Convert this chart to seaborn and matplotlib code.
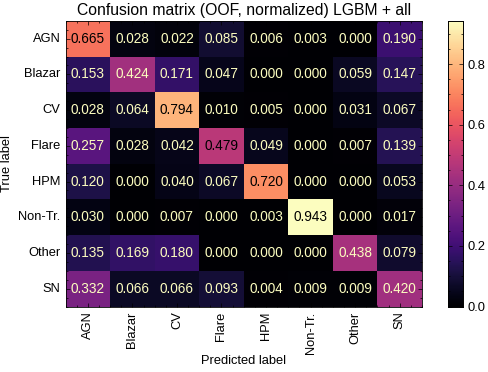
import numpy as np
import pandas as pd
import seaborn as sns
import matplotlib
matplotlib.use("Agg")
import matplotlib.pyplot as plt
from matplotlib.ticker import AutoMinorLocator

# классы и нормированная матрица ошибок
classes = ["AGN", "Blazar", "CV", "Flare", "HPM", "Non-Tr.", "Other", "SN"]
row_agn = [0.665, 0.028, 0.022, 0.085, 0.006, 0.003, 0.000, 0.190]
row_blazar = [0.153, 0.424, 0.171, 0.047, 0.000, 0.000, 0.059, 0.147]
row_cv = [0.028, 0.064, 0.794, 0.010, 0.005, 0.000, 0.031, 0.067]
row_flare = [0.257, 0.028, 0.042, 0.479, 0.049, 0.000, 0.007, 0.139]
row_hpm = [0.120, 0.000, 0.040, 0.067, 0.720, 0.000, 0.000, 0.053]
row_nontr = [0.030, 0.000, 0.007, 0.000, 0.003, 0.943, 0.000, 0.017]
row_other = [0.135, 0.169, 0.180, 0.000, 0.000, 0.000, 0.438, 0.079]
row_sn = [0.332, 0.066, 0.066, 0.093, 0.004, 0.009, 0.009, 0.420]

cm = pd.DataFrame([row_agn, row_blazar, row_cv, row_flare, row_hpm,
                   row_nontr, row_other, row_sn],
                  index=classes, columns=classes)

# стиль как в научных графиках: тики внутрь, со всех сторон
plt.rcParams["font.family"] = ["Liberation Sans", "DejaVu Sans"]
plt.rcParams["xtick.direction"] = "in"
plt.rcParams["ytick.direction"] = "in"
plt.rcParams["xtick.top"] = True
plt.rcParams["ytick.right"] = True
plt.rcParams["axes.linewidth"] = 0.6

fig = plt.figure(figsize=(4.89, 3.72), dpi=100)
ax = fig.add_axes([0.134, 0.176, 0.729, 0.768])
cax = fig.add_axes([0.917, 0.176, 0.030, 0.768])

sns.heatmap(cm, cmap="magma", vmin=0, vmax=cm.values.max(), ax=ax,
            cbar_ax=cax, annot=False, square=False)

# подписи в ячейках
for i in range(len(classes)):
    for j in range(len(classes)):
        v = cm.values[i, j]
        col = "black" if v > 0.45 else "#fcfdbf"
        ax.text(j + 0.5, i + 0.5, f"{v:.3f}", ha="center", va="center",
                color=col, fontsize=9.8)

for s in ax.spines.values():
    s.set_visible(True)
    s.set_color("black")
    s.set_linewidth(0.6)

ax.set_title("Confusion matrix (OOF, normalized) LGBM + all", fontsize=11.3, pad=4)
ax.set_xlabel("Predicted label", fontsize=9.3, labelpad=1)
ax.set_ylabel("True label", fontsize=9.3)
ax.set_xticklabels(classes, rotation=90, fontsize=9.3)
ax.set_yticklabels(classes, rotation=0, fontsize=9.3)
ax.xaxis.set_minor_locator(AutoMinorLocator(4))
ax.yaxis.set_minor_locator(AutoMinorLocator(4))
ax.tick_params(which="both", top=True, right=True, bottom=True, left=True,
               direction="in", color="black", width=0.5)
ax.tick_params(which="major", length=3)
ax.tick_params(which="minor", length=1.5)

cax.yaxis.set_minor_locator(AutoMinorLocator(4))
cax.tick_params(which="both", direction="in", width=0.5, right=True,
                left=True, color="black", labelsize=9.3)
cax.tick_params(which="major", length=3)
cax.tick_params(which="minor", length=1.5)
for s in cax.spines.values():
    s.set_visible(True)
    s.set_color("black")
    s.set_linewidth(0.6)

plt.savefig("out.png", dpi=100)
